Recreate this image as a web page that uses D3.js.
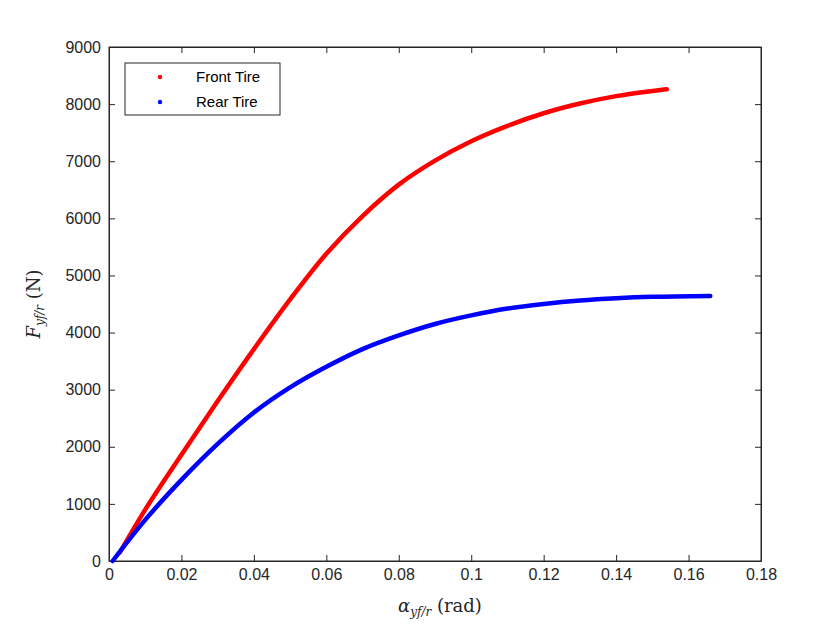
<!DOCTYPE html>
<html><head><meta charset="utf-8">
<script src="https://cdn.jsdelivr.net/npm/d3@7"></script>
<style>body{margin:0;background:#fff}</style>
</head><body>
<script>
const frontAlpha = [0.003, 0.01, 0.02, 0.03, 0.04, 0.05, 0.06, 0.07, 0.08, 0.09, 0.10, 0.11, 0.12, 0.13, 0.14, 0.15, 0.154];
const frontForce = [150, 900, 1860, 2800, 3710, 4580, 5380, 6040, 6590, 7010, 7350, 7620, 7840, 8010, 8140, 8230, 8260];
const rearAlpha = [0.001, 0.01, 0.02, 0.03, 0.04, 0.05, 0.06, 0.07, 0.08, 0.09, 0.10, 0.11, 0.12, 0.13, 0.14, 0.15, 0.166];
const rearForce = [0, 720, 1420, 2050, 2600, 3040, 3400, 3710, 3950, 4150, 4300, 4420, 4500, 4560, 4600, 4625, 4640];
const xTicks = [0, 0.02, 0.04, 0.06, 0.08, 0.1, 0.12, 0.14, 0.16, 0.18];
const yTicks = [0, 1000, 2000, 3000, 4000, 5000, 6000, 7000, 8000, 9000];
const series = [
  {name: "Front Tire", color: "#ff0000", x: frontAlpha, y: frontForce},
  {name: "Rear Tire", color: "#0000ff", x: rearAlpha, y: rearForce}
];

const W = 840, H = 630, L = 109, R = 761, T = 47, B = 561;
const svg = d3.select("body").append("svg").attr("width", W).attr("height", H)
  .style("font-family", "'Liberation Sans', Arial, sans-serif");
const x = d3.scaleLinear().domain([0, 0.18]).range([L, R]);
const y = d3.scaleLinear().domain([0, 9000]).range([B, T]);

svg.append("rect").attr("x", L).attr("y", T).attr("width", R - L).attr("height", B - T)
  .attr("fill", "#fff").attr("stroke", "#262626").attr("stroke-width", 1);

const fmt = d => d === 0 ? "0" : String(+d.toFixed(2));
const gx = svg.append("g").attr("transform", `translate(0,${B})`)
  .call(d3.axisBottom(x).tickValues(xTicks).tickFormat(fmt).tickSizeInner(-6).tickSizeOuter(0).tickPadding(8));
const gy = svg.append("g").attr("transform", `translate(${L},0)`)
  .call(d3.axisLeft(y).tickValues(yTicks).tickFormat(d3.format("d")).tickSizeInner(-6).tickSizeOuter(0).tickPadding(8));
const gx2 = svg.append("g").attr("transform", `translate(0,${T})`)
  .call(d3.axisTop(x).tickValues(xTicks).tickFormat("").tickSizeInner(-6).tickSizeOuter(0));
const gy2 = svg.append("g").attr("transform", `translate(${R},0)`)
  .call(d3.axisRight(y).tickValues(yTicks).tickFormat("").tickSizeInner(-6).tickSizeOuter(0));
[gx, gy, gx2, gy2].forEach(g => {
  g.select(".domain").attr("stroke", "#262626");
  g.selectAll("line").attr("stroke", "#262626");
  g.selectAll("text").attr("font-size", 16).attr("fill", "#262626").attr("font-family", "'Liberation Sans', Arial, sans-serif");
});

const line = d3.line().x(d => x(d[0])).y(d => y(d[1])).curve(d3.curveCatmullRom);
series.forEach(s => {
  svg.append("path").datum(s.x.map((v, i) => [v, s.y[i]]))
    .attr("d", line).attr("fill", "none").attr("stroke", s.color)
    .attr("stroke-width", 4.5).attr("stroke-linecap", "round");
});

// legend
const lg = svg.append("g");
lg.append("rect").attr("x", 125).attr("y", 63).attr("width", 155).attr("height", 52)
  .attr("fill", "#fff").attr("stroke", "#262626").attr("stroke-width", 1);
series.forEach((s, i) => {
  const yy = 77 + i * 25;
  lg.append("circle").attr("cx", 160).attr("cy", yy).attr("r", 2.2).attr("fill", s.color);
  lg.append("text").attr("x", 196).attr("y", yy + 5).attr("font-size", 15).attr("fill", "#000").text(s.name);
});

// axis labels
const serif = "'DejaVu Serif', 'Liberation Serif', serif";
const xl = svg.append("text").attr("x", 440).attr("y", 612).attr("text-anchor", "middle")
  .attr("font-family", serif).attr("font-size", 18).attr("fill", "#262626");
xl.append("tspan").attr("font-style", "italic").text("α");
xl.append("tspan").attr("font-style", "italic").attr("font-size", 12).attr("dy", 4).text("yf/r");
xl.append("tspan").attr("dy", -4).text(" (rad)");

const yl = svg.append("text").attr("transform", "translate(40,304) rotate(-90)").attr("text-anchor", "middle")
  .attr("font-family", serif).attr("font-size", 18).attr("fill", "#262626");
yl.append("tspan").attr("font-style", "italic").text("F");
yl.append("tspan").attr("font-style", "italic").attr("font-size", 12).attr("dy", 4).text("yf/r");
yl.append("tspan").attr("dy", -4).text(" (N)");
</script>
</body></html>
